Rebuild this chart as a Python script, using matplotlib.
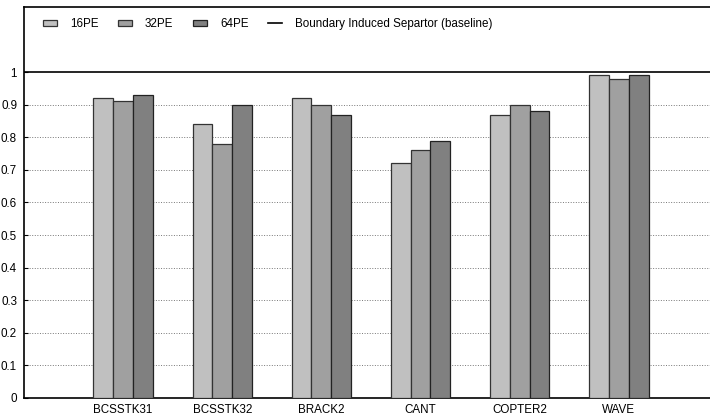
import numpy as np
import matplotlib
matplotlib.use("Agg")
import matplotlib.pyplot as plt

matrices = ["BCSSTK31", "BCSSTK32", "BRACK2", "CANT", "COPTER2", "WAVE"]
pe16 = [0.92, 0.84, 0.92, 0.72, 0.87, 0.99]
pe32 = [0.91, 0.78, 0.90, 0.76, 0.90, 0.98]
pe64 = [0.93, 0.90, 0.87, 0.79, 0.88, 0.99]
baseline = 1.0
yticks = [0, 0.1, 0.2, 0.3, 0.4, 0.5, 0.6, 0.7, 0.8, 0.9, 1]

plt.rcParams["font.family"] = ["Liberation Sans", "DejaVu Sans"]
plt.rcParams["font.size"] = 8.4

fig = plt.figure(figsize=(7.1, 4.18), dpi=100)
ax = fig.add_axes([24 / 710, 20 / 418, 686 / 710, 391 / 418])

x = np.arange(1, len(matrices) + 1)
w = 0.2
b1 = ax.bar(x - w, pe16, w, color="#c0c0c0", edgecolor="#333333", linewidth=0.9, label="16PE", zorder=3)
b2 = ax.bar(x, pe32, w, color="#a0a0a0", edgecolor="#333333", linewidth=0.9, label="32PE", zorder=3)
b3 = ax.bar(x + w, pe64, w, color="#808080", edgecolor="#222222", linewidth=0.9, label="64PE", zorder=3)
ln = ax.axhline(baseline, color="black", linewidth=1.2, label="Boundary Induced Separtor (baseline)", zorder=2)

ax.set_xlim(0.0, 6.92)
ax.set_ylim(0, 1.2)
ax.set_xticks(x)
ax.set_xticklabels(matrices)
ax.set_yticks(yticks)
ax.set_yticklabels([f"{v:g}" for v in yticks])
ax.tick_params(axis="x", length=0, pad=4)
ax.tick_params(axis="y", direction="in", length=3, pad=5)
for v in yticks[1:-1]:
    ax.axhline(v, color="#777777", linestyle=":", linewidth=0.7, zorder=1)

ax.spines["right"].set_visible(False)
for s in ["left", "top", "bottom"]:
    ax.spines[s].set_linewidth(1.2)

fig.legend([b1, b2, b3, ln], [b1.get_label(), b2.get_label(), b3.get_label(), ln.get_label()],
           loc="center left", bbox_to_anchor=(43 / 710, 1 - 24 / 418), ncol=4, frameon=False,
           handlelength=1.2, handleheight=0.4, handletextpad=1.1, columnspacing=1.7,
           borderaxespad=0, borderpad=0, fontsize=8.4)

plt.savefig("out.png", dpi=100)
plt.close()
